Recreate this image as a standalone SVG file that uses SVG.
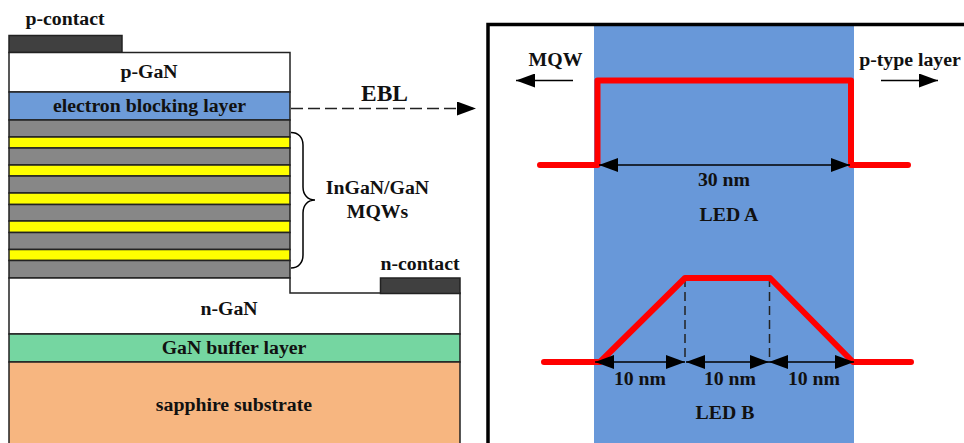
<svg xmlns="http://www.w3.org/2000/svg" width="964" height="443" viewBox="0 0 964 443">
<style>
text{font-family:"Liberation Serif","Times New Roman",serif;font-weight:bold;font-size:19.800px;fill:#111;text-anchor:middle}
.l{stroke:#222;stroke-width:1.5}
.g{fill:#878787}.y{fill:#ffff00}
.red{fill:none;stroke:#ff0000;stroke-width:6;stroke-linecap:round;stroke-linejoin:round}
.th{fill:none;stroke:#000;stroke-width:1.5}
.ar{marker-end:url(#a)}
.both{marker-start:url(#b);marker-end:url(#a)}
.d{fill:none;stroke:#222;stroke-width:1.5;stroke-dasharray:9 5}
.e{fill:none;stroke:#222;stroke-width:1.5;stroke-dasharray:12 5}
</style>
<defs>
<marker id="a" markerUnits="userSpaceOnUse" markerWidth="19" markerHeight="14" refX="19" refY="7" orient="auto"><path d="M0 0L19 7L0 14Z" fill="#000"/></marker>
<marker id="b" markerUnits="userSpaceOnUse" markerWidth="19" markerHeight="14" refX="0" refY="7" orient="auto"><path d="M19 0L0 7L19 14Z" fill="#000"/></marker>
</defs>
<rect width="964" height="443" fill="#fff"/>
<g id="p-contact"><rect class="l" x="9" y="35.500" width="113" height="17" fill="#404040"/><text x="65" y="25">p-contact</text></g>
<g id="p-gan"><rect class="l" x="9" y="52.500" width="281" height="39.500" fill="#fff"/><text x="149" y="78">p-GaN</text></g>
<g id="ebl"><rect class="l" x="9" y="92" width="281" height="28" fill="#6d9bd8"/><text x="149.500" y="112">electron blocking layer</text></g>
<g id="mqw">
<rect class="l g" x="9" y="120" width="281" height="17"/>
<rect class="l y" x="9" y="137" width="281" height="11"/>
<rect class="l g" x="9" y="148" width="281" height="17"/>
<rect class="l y" x="9" y="165" width="281" height="11"/>
<rect class="l g" x="9" y="176" width="281" height="17"/>
<rect class="l y" x="9" y="193" width="281" height="11.500"/>
<rect class="l g" x="9" y="204.500" width="281" height="16.500"/>
<rect class="l y" x="9" y="221" width="281" height="11.500"/>
<rect class="l g" x="9" y="232.500" width="281" height="17"/>
<rect class="l y" x="9" y="249.500" width="281" height="11"/>
<rect class="l g" x="9" y="260.500" width="281" height="17.500"/>
</g>
<g id="n-gan"><path class="l" d="M9 278H290V293H460V334H9Z" fill="#fff"/><text x="229" y="315">n-GaN</text></g>
<g id="n-contact"><rect class="l" x="380.500" y="278" width="79.500" height="15.500" fill="#404040"/><text x="420" y="270">n-contact</text></g>
<g id="buffer"><rect class="l" x="9" y="334" width="451" height="28" fill="#75d6a1"/><text x="234" y="354">GaN buffer layer</text></g>
<g id="sapphire"><path class="l" d="M9 443V362H460V443" fill="#f7b680"/><text x="234" y="411">sapphire substrate</text></g>
<g id="mqw-label"><path class="th" d="M291 132.500C298 132.500 303 137 303 145V187C303 195 308 200 315 200C308 200 303 205 303 213V255C303 263 298 268 291 268"/><text x="377.500" y="194">InGaN/GaN</text><text x="377.500" y="218">MQWs</text></g>
<g id="ebl-label"><text x="384.500" y="101" style="font-size:23.500px">EBL</text></g>
<g id="panel">
<rect x="594" y="26" width="260" height="417" fill="#6898d9"/>
<path d="M488 443V24.500H964" fill="none" stroke="#000" stroke-width="3.500"/>
<text x="555.500" y="66">MQW</text><text x="910" y="66">p-type layer</text>
<text x="724" y="186">30 nm</text><text x="729" y="221">LED A</text>
<text x="640" y="385">10 nm</text><text x="730" y="385">10 nm</text><text x="814" y="385">10 nm</text><text x="725" y="419">LED B</text>
</g>
<g id="connectors">
<path class="e ar" d="M291 108.500H476"/>
<path class="th ar" d="M573 80.500H516"/>
<path class="th ar" d="M881 80.500H938"/>
<path class="d" d="M685 278V362M769.500 278V362"/>
<path class="red" d="M540 165H597.500V80.500H851V165H908"/>
<path class="red" d="M544 362H600L685 278H770L853 362H911"/>
<path class="th both" d="M599 165H850"/>
<path class="th both" d="M595 362H685"/>
<path class="th both" d="M686 362H769"/>
<path class="th both" d="M769 362H854"/>
</g>
</svg>
